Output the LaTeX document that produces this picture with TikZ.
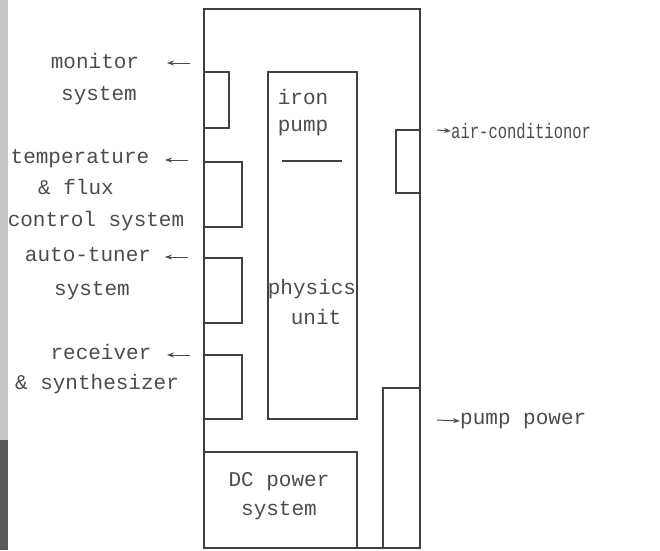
\documentclass[tikz,border=0pt]{standalone}
\usepackage{fontspec}
\setmonofont{Liberation Mono}
\newfontfamily\narrowmono[FakeStretch=0.74]{Liberation Mono}
\usetikzlibrary{arrows.meta}
\definecolor{inkline}{gray}{0.25}
\definecolor{inktext}{gray}{0.3}
\tikzset{
   part/.style={draw=inkline, line width=1.8pt},
   lbl/.style={font=\ttfamily\fontsize{21}{24}\selectfont, text=inktext, inner sep=0pt, anchor=mid},
   sig/.style={-{Stealth[length=7pt,width=5pt]}, draw=inktext, line width=1pt},
}
\begin{document}
\begin{tikzpicture}[x=1pt,y=-1pt]
   \useasboundingbox (0,0) rectangle (660,550);
   % scanner edge
   \fill[black!22] (0,0) rectangle (8,550);
   \fill[black!65] (0,440) rectangle (8,550);

   % cabinet and modules
   \draw[part] (204,9) rectangle (420,548);
   \draw[part] (268,72) rectangle (357,419);
   \draw[part] (282,161) -- (342,161);
   \draw[part] (204,72) rectangle (229,128);
   \draw[part] (204,162) rectangle (242,227);
   \draw[part] (204,258) rectangle (242,323);
   \draw[part] (204,355) rectangle (242,419);
   \draw[part] (204,452) rectangle (357,548);
   \draw[part] (383,388) rectangle (420,548);
   \draw[part] (396,130) rectangle (420,193);

   % left side
   \node[lbl] (mon1) at (95,66) {monitor};
   \node[lbl] (mon2) at (99,98) {system};
   \node[lbl] (tmp1) at (80,161) {temperature};
   \node[lbl] (tmp2) at (76,192) {\& flux};
   \node[lbl] (tmp3) at (96,224) {control system};
   \node[lbl] (tun1) at (88,259) {auto-tuner};
   \node[lbl] (tun2) at (92,293) {system};
   \node[lbl] (rec1) at (101,357) {receiver};
   \node[lbl] (rec2) at (97,387) {\& synthesizer};

   \coordinate (monA) at (190,63);
   \coordinate (tmpA) at (188,160);
   \coordinate (tunA) at (188,257);
   \coordinate (recA) at (190,355);
   \foreach \a in {monA,tmpA,tunA,recA}
      \draw[sig] (\a) -- ++(-23,0);

   % inside
   \node[lbl] (irn1) at (303,102) {iron};
   \node[lbl] (irn2) at (303,129) {pump};
   \node[lbl] (phy1) at (312,292) {physics};
   \node[lbl] (phy2) at (316,322) {unit};
   \node[lbl] (dcp1) at (279,484) {DC power};
   \node[lbl] (dcp2) at (279,513) {system};

   % right side
   \node[lbl, anchor=west, font=\narrowmono\fontsize{21}{24}\selectfont] (air) at (451,131) {air-conditionor};
   \node[lbl, anchor=west] (ppw) at (460,421) {pump power};
   \coordinate (airA) at (437,130);
   \coordinate (ppwA) at (437,420);
   \draw[sig] (airA) -- (air.west);
   \draw[sig] (ppwA) -- (ppw.west);
\end{tikzpicture}
\end{document}
